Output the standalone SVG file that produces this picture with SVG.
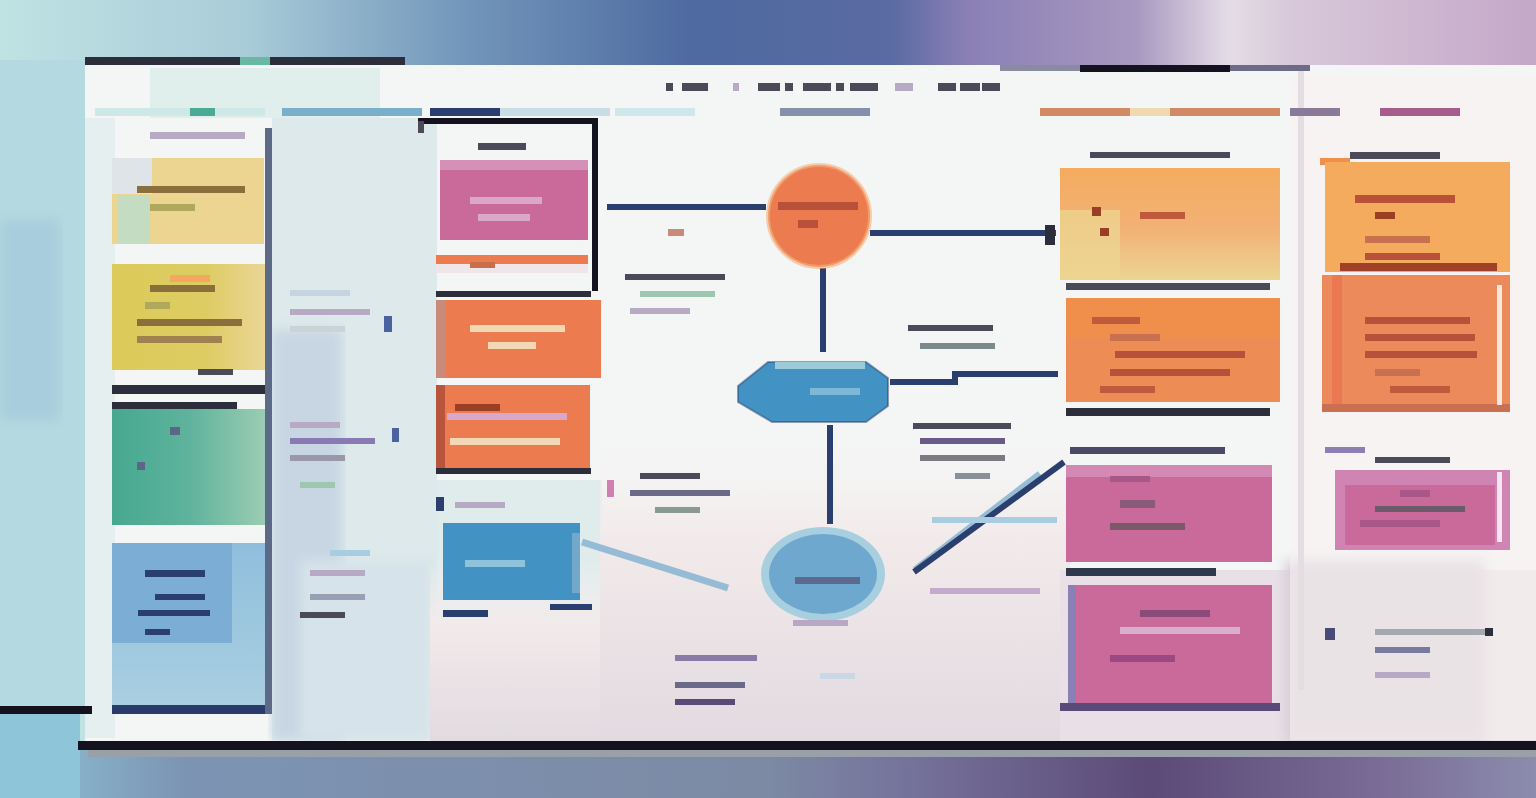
<svg xmlns="http://www.w3.org/2000/svg" width="1536" height="798" viewBox="0 0 1536 798">
<defs>
<linearGradient id="sky" x1="0" y1="0" x2="1" y2="0">
<stop offset="0" stop-color="#bfe3e3"/><stop offset="0.16" stop-color="#a9ccd9"/><stop offset="0.3" stop-color="#7397bb"/><stop offset="0.45" stop-color="#4e6aa0"/><stop offset="0.58" stop-color="#5a6aa2"/><stop offset="0.63" stop-color="#8a80b6"/><stop offset="0.74" stop-color="#a898c0"/><stop offset="0.8" stop-color="#e4dde6"/><stop offset="0.84" stop-color="#d8c8da"/><stop offset="1" stop-color="#c4a8c8"/>
</linearGradient>
<linearGradient id="floor" x1="0" y1="0" x2="1" y2="0">
<stop offset="0" stop-color="#8fc5d8"/><stop offset="0.12" stop-color="#7c94b4"/><stop offset="0.5" stop-color="#7c8aa4"/><stop offset="0.6" stop-color="#74709a"/><stop offset="0.75" stop-color="#5c4a78"/><stop offset="0.9" stop-color="#7a6c96"/><stop offset="1" stop-color="#8c8cae"/>
</linearGradient>
<linearGradient id="lowtint" x1="0" y1="0" x2="0" y2="1">
<stop offset="0" stop-color="#f6f1f1" stop-opacity="0"/><stop offset="0.35" stop-color="#f2eaea"/><stop offset="1" stop-color="#e1dae0"/>
</linearGradient>
<linearGradient id="teal" x1="0" y1="0" x2="1" y2="0">
<stop offset="0" stop-color="#46a890"/><stop offset="0.5" stop-color="#5fb39c"/><stop offset="1" stop-color="#9dcdb4"/>
</linearGradient>
<linearGradient id="ybox" x1="0" y1="0" x2="1" y2="0">
<stop offset="0" stop-color="#dccb5a"/><stop offset="0.6" stop-color="#ddcc62"/><stop offset="1" stop-color="#ebd699"/>
</linearGradient>
<linearGradient id="lblue" x1="0" y1="0" x2="0" y2="1">
<stop offset="0" stop-color="#8fbedd"/><stop offset="1" stop-color="#a9cfe0"/>
</linearGradient>
<linearGradient id="oy" x1="0" y1="0" x2="0" y2="1">
<stop offset="0" stop-color="#f4ab5e"/><stop offset="0.55" stop-color="#f2b276"/><stop offset="1" stop-color="#ecd592"/>
</linearGradient>
<filter id="soft" x="-5%" y="-5%" width="110%" height="110%"><feGaussianBlur stdDeviation="6"/></filter>
<style>
.tm{fill:#4a4a58}
.tl{fill:#b8aac4}
.tg{fill:#9cc8b0}
.tp{fill:#d9a8c8}
.tw{fill:#f2d8b4}
.td{fill:#9a3e24}
.tn{fill:#2a3f6e}
.con{stroke:#2a3f6e;stroke-width:6;fill:none}
.conl{stroke:#7fb0d0;stroke-width:7;fill:none;opacity:0.8}
.pink{fill:#c96a9a}
.orng{fill:#ec7b50}
.bar{fill:#2c2e3c}
</style>
</defs>

<!-- scene background -->
<rect x="0" y="0" width="1536" height="798" fill="#bfe3e3"/>
<rect x="0" y="0" width="1536" height="70" fill="url(#sky)"/>
<rect x="0" y="745" width="1536" height="53" fill="url(#floor)"/>
<rect x="0" y="60" width="85" height="650" fill="#b4d9e0"/>
<rect x="0" y="220" width="60" height="200" fill="#a8cedd" filter="url(#soft)"/>
<rect x="0" y="714" width="80" height="84" fill="#8fc5d8"/>

<!-- board -->
<g id="board">
<rect x="85" y="65" width="1451" height="677" fill="#f4f6f6"/>
<rect x="150" y="68" width="230" height="50" fill="#e0eeec"/>
<rect x="272" y="118" width="165" height="622" fill="#dde9ea"/>
<rect x="272" y="330" width="70" height="410" fill="#c8d6e4" filter="url(#soft)"/>
<rect x="300" y="560" width="130" height="180" fill="#d6e3ea" filter="url(#soft)"/>
<rect x="437" y="480" width="165" height="260" fill="#e0ecec"/>
<rect x="85" y="118" width="30" height="620" fill="#e6eff0"/>
<rect x="430" y="560" width="640" height="182" fill="url(#lowtint)"/>
<rect x="600" y="430" width="470" height="312" fill="url(#lowtint)"/>
<rect x="1060" y="570" width="476" height="172" fill="#e8e0e6"/>
<rect x="1285" y="560" width="200" height="182" fill="#d8ccd8" filter="url(#soft)"/>
<rect x="1290" y="75" width="246" height="665" fill="#f6f1f0" opacity="0.6"/>
<rect x="1298" y="70" width="6" height="620" fill="#e4dde2"/>
<rect x="85" y="57" width="320" height="8" fill="#2c2e3c"/>
<rect x="240" y="57" width="30" height="8" fill="#6ab8a4"/>
<rect x="1080" y="65" width="150" height="7" fill="#14121e"/>
<rect x="1000" y="65" width="80" height="6" fill="#8a8aa0"/>
<rect x="1230" y="65" width="80" height="6" fill="#6c6c88"/>
<rect x="78" y="741" width="1458" height="9" fill="#14121e"/>
<rect x="88" y="750" width="1448" height="7" fill="#9aa0a8"/>
<rect x="0" y="706" width="92" height="8" fill="#14121e"/>
<!-- header strip -->
<rect x="95" y="108" width="170" height="8" fill="#cde8e6"/>
<rect x="190" y="108" width="25" height="8" fill="#4aaa93"/>
<rect x="282" y="108" width="140" height="8" fill="#7aafcc"/>
<rect x="430" y="108" width="70" height="8" fill="#2a3f6e"/>
<rect x="500" y="108" width="110" height="8" fill="#c8dde6"/>
<rect x="615" y="108" width="80" height="8" fill="#cfe6ea"/>
<rect x="780" y="108" width="90" height="8" fill="#8790aa"/>
<rect x="1040" y="108" width="240" height="8" fill="#d08a66"/>
<rect x="1130" y="108" width="40" height="8" fill="#f0d8b0"/>
<rect x="1290" y="108" width="50" height="8" fill="#8a7a9a"/>
<rect x="1380" y="108" width="80" height="8" fill="#a85c8c"/>
</g>

<!-- title -->
<g id="title">
<rect class="tm" x="666" y="83" width="7" height="8"/>
<rect class="tm" x="682" y="83" width="26" height="8"/>
<rect class="tl" x="733" y="83" width="6" height="8"/>
<rect class="tm" x="758" y="83" width="22" height="8"/>
<rect class="tm" x="785" y="83" width="8" height="8"/>
<rect class="tm" x="803" y="83" width="28" height="8"/>
<rect class="tm" x="836" y="83" width="8" height="8"/>
<rect class="tm" x="850" y="83" width="28" height="8"/>
<rect class="tl" x="895" y="83" width="18" height="8"/>
<rect class="tm" x="938" y="83" width="18" height="8"/>
<rect class="tm" x="960" y="83" width="20" height="8"/>
<rect class="tm" x="982" y="83" width="18" height="8"/>
</g>

<!-- connectors -->
<g id="connectors">
<line class="conl" x1="582" y1="542" x2="728" y2="588"/>
<line class="con" x1="607" y1="207" x2="766" y2="207"/>
<line class="con" x1="870" y1="233" x2="1056" y2="233"/>
<rect x="1045" y="225" width="10" height="20" fill="#2c2e3c"/>
<line class="con" x1="823" y1="268" x2="823" y2="352"/>
<line class="con" x1="830" y1="425" x2="830" y2="524"/>
<polyline class="con" points="890,382 955,382 955,374 1058,374"/>
<line class="conl" x1="1040" y1="474" x2="915" y2="570" opacity="0.5"/>
<line class="con" x1="1064" y1="462" x2="914" y2="572" stroke="#3f5fa0" stroke-width="5"/>
</g>

<!-- left column -->
<g id="node-left-1">
<rect class="tl" x="150" y="132" width="95" height="7"/>
<rect x="112" y="158" width="152" height="86" fill="#ecd590"/>
<rect x="118" y="195" width="32" height="49" fill="#c4ddc2"/>
<rect x="112" y="158" width="40" height="36" fill="#dfe4e8"/>
<rect x="137" y="186" width="108" height="7" fill="#8b6e3c"/>
<rect x="150" y="204" width="45" height="7" fill="#b0a85a"/>
</g>
<g id="node-left-2">
<rect x="112" y="264" width="155" height="106" fill="url(#ybox)"/>
<rect x="170" y="275" width="40" height="7" fill="#f4a85e"/>
<rect x="150" y="285" width="65" height="7" fill="#8b6e3c"/>
<rect x="145" y="302" width="25" height="7" fill="#b0a85a"/>
<rect x="137" y="319" width="105" height="7" fill="#8b6e3c"/>
<rect x="137" y="336" width="85" height="7" fill="#a08050"/>
<rect class="tm" x="198" y="369" width="35" height="6"/>
</g>
<g id="node-left-3">
<rect class="bar" x="112" y="385" width="160" height="9"/>
<rect class="bar" x="112" y="402" width="125" height="7"/>
<rect x="112" y="409" width="155" height="116" fill="url(#teal)"/>
<rect x="170" y="427" width="10" height="8" fill="#5c6688"/>
<rect x="137" y="462" width="8" height="8" fill="#5c6688"/>
</g>
<g id="node-left-4">
<rect x="112" y="543" width="155" height="162" fill="url(#lblue)"/>
<rect x="112" y="543" width="120" height="100" fill="#7cadd4"/>
<rect class="tn" x="145" y="570" width="60" height="7"/>
<rect class="tn" x="155" y="594" width="50" height="6"/>
<rect class="tn" x="138" y="610" width="72" height="6"/>
<rect class="tn" x="145" y="629" width="25" height="6"/>
<rect x="112" y="705" width="160" height="9" fill="#2a3a6a"/>
</g>
<rect x="265" y="128" width="7" height="586" fill="#5c6a88"/>

<!-- labels between left and middle -->
<g id="labels-left">
<rect x="290" y="290" width="60" height="6" fill="#c6d4e2"/>
<rect class="tl" x="290" y="309" width="80" height="6"/>
<rect x="290" y="326" width="55" height="6" fill="#c8d4d8"/>
<rect x="384" y="316" width="8" height="16" fill="#4a62a0"/>
<rect class="tl" x="290" y="422" width="50" height="6"/>
<rect x="290" y="438" width="85" height="6" fill="#8a7ab4"/>
<rect x="392" y="428" width="7" height="14" fill="#4a62a0"/>
<rect x="290" y="455" width="55" height="6" fill="#9a98a8"/>
<rect class="tg" x="300" y="482" width="35" height="6"/>
<rect x="330" y="550" width="40" height="6" fill="#a8cce0"/>
<rect class="tl" x="310" y="570" width="55" height="6"/>
<rect x="310" y="594" width="55" height="6" fill="#9aa0b4"/>
<rect class="tm" x="300" y="612" width="45" height="6"/>
</g>

<!-- middle column -->
<g id="node-mid-frame">
<path d="M418,121 H595 V291" stroke="#14121e" stroke-width="6" fill="none"/>
<rect x="418" y="121" width="6" height="12" fill="#4a4a58"/>
<rect class="tm" x="478" y="143" width="48" height="7"/>
<rect x="440" y="160" width="148" height="80" class="pink"/>
<rect x="440" y="160" width="148" height="10" fill="#d490b6"/>
<rect class="tp" x="470" y="197" width="72" height="7"/>
<rect class="tp" x="478" y="214" width="52" height="7"/>
</g>
<g id="node-mid-strip">
<rect x="436" y="255" width="152" height="18" class="orng"/>
<rect x="436" y="264" width="152" height="9" fill="#efe6ea"/>
<rect x="470" y="262" width="25" height="6" fill="#c86e4a"/>
<rect class="bar" x="436" y="291" width="155" height="6"/>
</g>
<g id="node-mid-1">
<rect x="436" y="300" width="165" height="78" class="orng"/>
<rect x="436" y="300" width="10" height="78" fill="#c98a7a"/>
<rect class="tw" x="470" y="325" width="95" height="7"/>
<rect class="tw" x="488" y="342" width="48" height="7"/>
</g>
<g id="node-mid-2">
<rect x="436" y="385" width="154" height="83" class="orng"/>
<rect x="436" y="385" width="9" height="83" fill="#b8553c"/>
<rect class="td" x="455" y="404" width="45" height="7"/>
<rect class="tp" x="447" y="413" width="120" height="7"/>
<rect class="tw" x="450" y="438" width="110" height="7"/>
<rect class="bar" x="436" y="468" width="155" height="6"/>
</g>
<g id="node-mid-blue">
<rect x="436" y="497" width="8" height="14" fill="#2a3f6e"/>
<rect class="tl" x="455" y="502" width="50" height="6"/>
<rect x="443" y="523" width="137" height="77" fill="#4293c4"/>
<rect x="572" y="533" width="8" height="60" fill="#72a8cc"/>
<rect x="465" y="560" width="60" height="7" fill="#8fc3dc"/>
<rect x="443" y="610" width="45" height="7" fill="#2a3f6e"/>
<rect x="550" y="604" width="42" height="6" fill="#2a3f6e"/>
</g>

<!-- center nodes -->
<g id="node-circle">
<circle cx="819" cy="216" r="51" class="orng"/>
<circle cx="819" cy="216" r="51" fill="none" stroke="#f4b07c" stroke-width="4" opacity="0.6"/>
<rect x="778" y="202" width="80" height="8" fill="#b8503a"/>
<rect x="798" y="220" width="20" height="8" fill="#b8503a"/>
</g>
<g id="node-hexagon">
<path d="M768,362 H866 L888,378 V406 L866,422 H772 L738,402 V386 Z" fill="#4293c4" stroke="#2a3f6e" stroke-width="2" stroke-opacity="0.5"/>
<rect x="775" y="362" width="90" height="7" fill="#9ccad8"/>
<rect x="810" y="388" width="50" height="7" fill="#7fb8d6"/>
</g>
<g id="node-ellipse">
<ellipse cx="823" cy="574" rx="62" ry="47" fill="#a8cfe0"/>
<ellipse cx="823" cy="574" rx="54" ry="40" fill="#6fa8ce"/>
<rect x="795" y="577" width="65" height="7" fill="#5c6a90"/>
<rect x="793" y="620" width="55" height="6" fill="#b8a8c4"/>
</g>

<!-- center labels -->
<g id="labels-center">
<rect x="668" y="229" width="16" height="7" fill="#c98a7a"/>
<rect class="tm" x="625" y="274" width="100" height="6"/>
<rect class="tg" x="640" y="291" width="75" height="6"/>
<rect class="tl" x="630" y="308" width="60" height="6"/>
<rect class="tm" x="908" y="325" width="85" height="6"/>
<rect x="920" y="343" width="75" height="6" fill="#7a8a8a"/>
<rect class="tm" x="913" y="423" width="98" height="6"/>
<rect x="920" y="438" width="85" height="6" fill="#6a5a88"/>
<rect x="920" y="455" width="85" height="6" fill="#7a7a80"/>
<rect x="955" y="473" width="35" height="6" fill="#8a9098"/>
<rect x="607" y="480" width="7" height="17" fill="#d080b0"/>
<rect class="tm" x="640" y="473" width="60" height="6"/>
<rect x="630" y="490" width="100" height="6" fill="#6a6a88"/>
<rect x="655" y="507" width="45" height="6" fill="#8a9a90"/>
<rect x="932" y="517" width="125" height="6" fill="#a8cde0"/>
<rect x="930" y="588" width="110" height="6" fill="#c4aacc"/>
<rect x="675" y="655" width="82" height="6" fill="#8a7aa8"/>
<rect x="675" y="682" width="70" height="6" fill="#6a6a88"/>
<rect x="675" y="699" width="60" height="6" fill="#5a4a7a"/>
<rect x="820" y="673" width="35" height="6" fill="#c8d8e4"/>
</g>

<!-- right group -->
<g id="node-right-1">
<rect class="tm" x="1090" y="152" width="140" height="6"/>
<rect x="1060" y="168" width="220" height="112" fill="url(#oy)"/>
<rect x="1060" y="210" width="60" height="70" fill="#ecd590" opacity="0.8"/>
<rect class="td" x="1092" y="207" width="9" height="9"/>
<rect x="1140" y="212" width="45" height="7" fill="#c05a3c"/>
<rect class="td" x="1100" y="228" width="9" height="8"/>
<rect class="tm" x="1066" y="283" width="204" height="7"/>
</g>
<g id="node-right-2">
<rect x="1066" y="298" width="214" height="104" fill="#ee8c55"/>
<rect x="1066" y="298" width="214" height="40" fill="#f08e4c"/>
<rect x="1092" y="317" width="48" height="7" fill="#c05a3c"/>
<rect x="1110" y="334" width="50" height="7" fill="#c87050"/>
<rect x="1115" y="351" width="130" height="7" fill="#b8503a"/>
<rect x="1110" y="369" width="120" height="7" fill="#b8503a"/>
<rect x="1100" y="386" width="55" height="7" fill="#c05a3c"/>
<rect class="bar" x="1066" y="408" width="204" height="8"/>
</g>
<g id="node-right-3">
<rect x="1070" y="447" width="155" height="7" fill="#4a4a68"/>
<rect x="1066" y="465" width="206" height="97" class="pink"/>
<rect x="1066" y="465" width="206" height="12" fill="#d488b4"/>
<rect x="1110" y="476" width="40" height="6" fill="#a85888"/>
<rect x="1120" y="500" width="35" height="8" fill="#8a5a7a"/>
<rect x="1110" y="523" width="75" height="7" fill="#7a5a6a"/>
<rect x="1066" y="568" width="150" height="8" fill="#30384e"/>
</g>
<g id="node-right-4">
<rect x="1068" y="585" width="204" height="118" class="pink"/>
<rect x="1068" y="585" width="8" height="118" fill="#8a80b4"/>
<rect x="1140" y="610" width="70" height="7" fill="#8a4a7a"/>
<rect x="1120" y="627" width="120" height="7" fill="#d8b0cc"/>
<rect x="1110" y="655" width="65" height="7" fill="#9a4a80"/>
<rect x="1060" y="703" width="220" height="8" fill="#5a4a78"/>
</g>

<!-- far right column -->
<g id="node-far-1">
<rect class="tm" x="1350" y="152" width="90" height="7"/>
<rect x="1320" y="158" width="30" height="7" fill="#f08e4c"/>
<rect x="1325" y="162" width="185" height="110" fill="#f4ab5e"/>
<rect x="1355" y="195" width="100" height="8" fill="#b8503a"/>
<rect x="1375" y="212" width="20" height="7" fill="#9a3e24"/>
<rect x="1365" y="236" width="65" height="7" fill="#c87050"/>
<rect x="1365" y="253" width="75" height="7" fill="#b8503a"/>
<rect x="1340" y="263" width="157" height="8" fill="#a04028"/>
</g>
<g id="node-far-2">
<rect x="1322" y="275" width="188" height="135" fill="#ec8a5c"/>
<rect x="1332" y="275" width="10" height="135" fill="#ea7850"/>
<rect x="1365" y="317" width="105" height="7" fill="#b8503a"/>
<rect x="1365" y="334" width="110" height="7" fill="#b8503a"/>
<rect x="1365" y="351" width="112" height="7" fill="#b8503a"/>
<rect x="1375" y="369" width="45" height="7" fill="#c87050"/>
<rect x="1390" y="386" width="60" height="7" fill="#c05a3c"/>
<rect x="1322" y="404" width="188" height="8" fill="#c87050"/>
<rect x="1497" y="285" width="5" height="120" fill="#ffffff" opacity="0.8"/>
</g>
<g id="node-far-3">
<rect class="tm" x="1375" y="457" width="75" height="6"/>
<rect x="1325" y="447" width="40" height="6" fill="#8a80b4"/>
<rect x="1335" y="470" width="175" height="80" fill="#d084b4"/>
<rect x="1345" y="485" width="150" height="60" class="pink"/>
<rect x="1400" y="490" width="30" height="7" fill="#a85888"/>
<rect x="1375" y="506" width="90" height="6" fill="#6a5a6a"/>
<rect x="1360" y="520" width="80" height="7" fill="#a85888"/>
<rect x="1497" y="472" width="5" height="70" fill="#ffffff" opacity="0.8"/>
</g>
<g id="labels-far">
<rect x="1325" y="628" width="10" height="12" fill="#4a4a78"/>
<rect x="1375" y="629" width="110" height="6" fill="#a4a8b0"/>
<rect x="1485" y="628" width="8" height="8" fill="#2c2e3c"/>
<rect x="1375" y="647" width="55" height="6" fill="#7a7aa0"/>
<rect x="1375" y="672" width="55" height="6" fill="#b8a8c4"/>
</g>
</svg>
